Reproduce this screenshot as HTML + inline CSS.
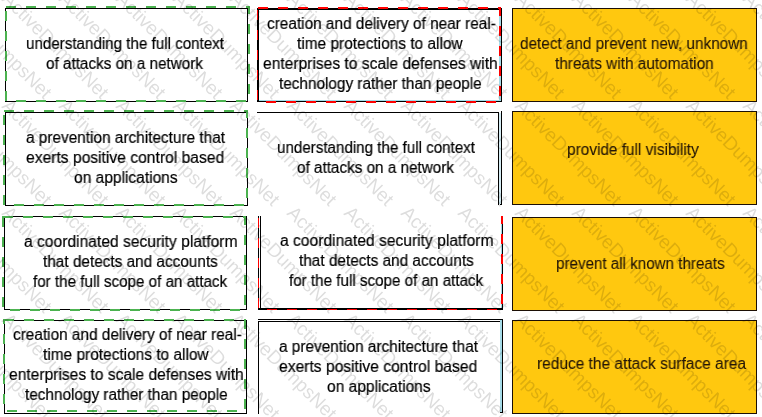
<!DOCTYPE html><html><head><meta charset="utf-8"><title>match</title><style>html,body{margin:0;padding:0;background:#fff}
#c{position:relative;width:762px;height:417px;overflow:hidden;background:#fff;font-family:"Liberation Sans",Arial,sans-serif;font-size:16px;line-height:20px;color:#000;-webkit-text-stroke:0.2px}
.t{position:absolute;white-space:nowrap;transform-origin:0 0;will-change:transform}</style></head><body><div id="c"><svg width="762" height="417" viewBox="0 0 762 417" shape-rendering="crispEdges" style="position:absolute;left:0;top:0"><defs><clipPath id="c3"><rect x="490" y="216" width="20" height="100"/></clipPath></defs><rect x="512" y="8" width="245" height="94" fill="#1c0f05"/><rect x="513" y="9" width="243" height="92" fill="#ffc80f"/><rect x="512" y="111" width="245" height="94" fill="#1c0f05"/><rect x="513" y="112" width="243" height="92" fill="#ffc80f"/><rect x="512" y="217" width="245" height="94" fill="#1c0f05"/><rect x="513" y="218" width="243" height="92" fill="#ffc80f"/><rect x="512" y="320" width="245" height="94" fill="#1c0f05"/><rect x="513" y="321" width="243" height="92" fill="#ffc80f"/><rect x="5" y="8" width="243" height="1" fill="#000"/><rect x="5" y="101" width="243" height="1" fill="#000"/><rect x="5" y="8" width="1" height="94" fill="#000"/><rect x="247" y="8" width="1" height="94" fill="#000"/><rect x="5" y="112" width="243" height="1" fill="#000"/><rect x="5" y="205" width="243" height="1" fill="#000"/><rect x="5" y="112" width="1" height="94" fill="#000"/><rect x="247" y="112" width="1" height="94" fill="#000"/><rect x="4" y="216" width="243" height="1" fill="#000"/><rect x="4" y="309" width="243" height="1" fill="#000"/><rect x="4" y="216" width="1" height="94" fill="#000"/><rect x="246" y="216" width="1" height="94" fill="#000"/><rect x="4" y="320" width="243" height="1" fill="#000"/><rect x="4" y="413" width="243" height="1" fill="#000"/><rect x="4" y="320" width="1" height="94" fill="#000"/><rect x="246" y="320" width="1" height="94" fill="#000"/><rect x="6" y="7" width="243" height="94" fill="none" stroke="#4cb250" stroke-width="2" stroke-dasharray="10 10"/><rect x="4" y="111" width="243" height="94" fill="none" stroke="#4cb250" stroke-width="2" stroke-dasharray="10 10"/><rect x="3" y="217" width="242" height="93" fill="none" stroke="#4cb250" stroke-width="2" stroke-dasharray="10 10"/><rect x="4" y="320" width="241" height="91" fill="none" stroke="#4cb250" stroke-width="2" stroke-dasharray="10 10"/><rect x="257" y="8" width="2" height="94" fill="#000"/><rect x="257" y="8" width="245" height="2" fill="#000"/><rect x="501" y="8" width="1" height="94" fill="#000"/><rect x="257" y="101" width="245" height="1" fill="#000"/><rect x="499" y="10" width="2" height="91" fill="#a5dbe8"/><rect x="259" y="100" width="242" height="1" fill="#a5dbe8"/><rect x="258" y="8" width="242" height="94" fill="none" stroke="#ff0000" stroke-width="2" stroke-dasharray="10 10"/><rect x="258" y="10" width="1" height="91" fill="#000"/><rect x="257" y="112" width="242" height="1" fill="#000"/><rect x="498" y="112" width="1" height="93" fill="#000"/><rect x="499" y="113" width="2" height="91" fill="#d6edf4"/><rect x="501" y="111" width="1" height="94" fill="#000"/><rect x="500" y="204" width="2" height="1" fill="#000"/><rect x="258" y="216" width="1" height="94" fill="#000"/><rect x="260" y="216" width="1" height="94" fill="#000"/><rect x="258" y="308" width="245" height="2" fill="#000"/><rect x="501" y="216" width="1" height="92" fill="#a5dbe8"/><rect x="502" y="216" width="1" height="94" fill="#000"/><path d="M502 214V309.5" stroke="#ff0000" stroke-width="2" stroke-dasharray="10 10" fill="none" clip-path="url(#c3)"/><path d="M502 309.5H258.5" stroke="#ff0000" stroke-width="1" stroke-dasharray="10 10" stroke-dashoffset="14.5" fill="none"/><path d="M258.5 308V216" stroke="#ff0000" stroke-width="1" stroke-dasharray="10 10" fill="none"/><rect x="258" y="319" width="245" height="1" fill="#000"/><rect x="258" y="321" width="242" height="1" fill="#000"/><rect x="258" y="321" width="1" height="93" fill="#000"/><rect x="500" y="320" width="2" height="93" fill="#a5dbe8"/><rect x="502" y="319" width="1" height="94" fill="#000"/><rect x="500" y="412" width="3" height="1" fill="#000"/></svg><div class="t" style="left:25.65px;top:33.90px;transform:scaleX(0.9473)">understanding the full context</div><div class="t" style="left:45.80px;top:53.80px;transform:scaleX(0.9539)">of attacks on a network</div><div class="t" style="left:266.70px;top:14.20px;transform:scaleX(0.9600)">creation and delivery of near real-</div><div class="t" style="left:297.40px;top:34.30px;transform:scaleX(0.9647)">time protections to allow</div><div class="t" style="left:263.40px;top:54.20px;transform:scaleX(0.9741)">enterprises to scale defenses with</div><div class="t" style="left:279.20px;top:74.20px;transform:scaleX(0.9575)">technology rather than people</div><div class="t" style="left:520.00px;top:33.70px;transform:scaleX(0.9550);color:#241607;-webkit-text-stroke-width:0.1px">detect and prevent new, unknown</div><div class="t" style="left:554.60px;top:54.10px;transform:scaleX(0.9591);color:#241607;-webkit-text-stroke-width:0.1px">threats with automation</div><div class="t" style="left:25.70px;top:128.00px;transform:scaleX(0.9601)">a prevention architecture that</div><div class="t" style="left:26.40px;top:147.80px;transform:scaleX(0.9773)">exerts positive control based</div><div class="t" style="left:73.70px;top:167.60px;transform:scaleX(0.9706)">on applications</div><div class="t" style="left:276.65px;top:137.90px;transform:scaleX(0.9473)">understanding the full context</div><div class="t" style="left:296.80px;top:157.80px;transform:scaleX(0.9539)">of attacks on a network</div><div class="t" style="left:566.94px;top:139.90px;transform:scaleX(0.9615);color:#241607;-webkit-text-stroke-width:0.1px">provide full visibility</div><div class="t" style="left:23.70px;top:232.00px;transform:scaleX(0.9760)">a coordinated security platform</div><div class="t" style="left:42.80px;top:251.90px;transform:scaleX(0.9586)">that detects and accounts</div><div class="t" style="left:32.80px;top:271.80px;transform:scaleX(0.9491)">for the full scope of an attack</div><div class="t" style="left:279.70px;top:231.10px;transform:scaleX(0.9760)">a coordinated security platform</div><div class="t" style="left:298.80px;top:251.00px;transform:scaleX(0.9586)">that detects and accounts</div><div class="t" style="left:288.80px;top:270.90px;transform:scaleX(0.9491)">for the full scope of an attack</div><div class="t" style="left:555.75px;top:254.00px;transform:scaleX(0.9476);color:#241607;-webkit-text-stroke-width:0.1px">prevent all known threats</div><div class="t" style="left:12.70px;top:324.70px;transform:scaleX(0.9600)">creation and delivery of near real-</div><div class="t" style="left:43.40px;top:344.80px;transform:scaleX(0.9647)">time protections to allow</div><div class="t" style="left:9.40px;top:364.70px;transform:scaleX(0.9741)">enterprises to scale defenses with</div><div class="t" style="left:25.20px;top:384.70px;transform:scaleX(0.9575)">technology rather than people</div><div class="t" style="left:278.70px;top:337.00px;transform:scaleX(0.9601)">a prevention architecture that</div><div class="t" style="left:279.40px;top:356.80px;transform:scaleX(0.9773)">exerts positive control based</div><div class="t" style="left:326.70px;top:376.60px;transform:scaleX(0.9706)">on applications</div><div class="t" style="left:536.63px;top:354.00px;transform:scaleX(0.9674);color:#241607;-webkit-text-stroke-width:0.1px">reduce the attack surface area</div><svg width="762" height="417" viewBox="0 0 762 417" style="position:absolute;left:0;top:0;pointer-events:none" font-family='"Liberation Sans",Arial,sans-serif' font-size="19" fill="#000" opacity="0.135"><text transform="translate(-113 -107) rotate(45)">ActiveDumpsNet</text><text transform="translate(-56 -107) rotate(45)">ActiveDumpsNet</text><text transform="translate(1 -107) rotate(45)">ActiveDumpsNet</text><text transform="translate(58 -107) rotate(45)">ActiveDumpsNet</text><text transform="translate(115 -107) rotate(45)">ActiveDumpsNet</text><text transform="translate(172 -107) rotate(45)">ActiveDumpsNet</text><text transform="translate(229 -107) rotate(45)">ActiveDumpsNet</text><text transform="translate(286 -107) rotate(45)">ActiveDumpsNet</text><text transform="translate(343 -107) rotate(45)">ActiveDumpsNet</text><text transform="translate(400 -107) rotate(45)">ActiveDumpsNet</text><text transform="translate(457 -107) rotate(45)">ActiveDumpsNet</text><text transform="translate(514 -107) rotate(45)">ActiveDumpsNet</text><text transform="translate(571 -107) rotate(45)">ActiveDumpsNet</text><text transform="translate(628 -107) rotate(45)">ActiveDumpsNet</text><text transform="translate(685 -107) rotate(45)">ActiveDumpsNet</text><text transform="translate(742 -107) rotate(45)">ActiveDumpsNet</text><text transform="translate(-113 0) rotate(45)">ActiveDumpsNet</text><text transform="translate(-56 0) rotate(45)">ActiveDumpsNet</text><text transform="translate(1 0) rotate(45)">ActiveDumpsNet</text><text transform="translate(58 0) rotate(45)">ActiveDumpsNet</text><text transform="translate(115 0) rotate(45)">ActiveDumpsNet</text><text transform="translate(172 0) rotate(45)">ActiveDumpsNet</text><text transform="translate(229 0) rotate(45)">ActiveDumpsNet</text><text transform="translate(286 0) rotate(45)">ActiveDumpsNet</text><text transform="translate(343 0) rotate(45)">ActiveDumpsNet</text><text transform="translate(400 0) rotate(45)">ActiveDumpsNet</text><text transform="translate(457 0) rotate(45)">ActiveDumpsNet</text><text transform="translate(514 0) rotate(45)">ActiveDumpsNet</text><text transform="translate(571 0) rotate(45)">ActiveDumpsNet</text><text transform="translate(628 0) rotate(45)">ActiveDumpsNet</text><text transform="translate(685 0) rotate(45)">ActiveDumpsNet</text><text transform="translate(742 0) rotate(45)">ActiveDumpsNet</text><text transform="translate(-113 107) rotate(45)">ActiveDumpsNet</text><text transform="translate(-56 107) rotate(45)">ActiveDumpsNet</text><text transform="translate(1 107) rotate(45)">ActiveDumpsNet</text><text transform="translate(58 107) rotate(45)">ActiveDumpsNet</text><text transform="translate(115 107) rotate(45)">ActiveDumpsNet</text><text transform="translate(172 107) rotate(45)">ActiveDumpsNet</text><text transform="translate(229 107) rotate(45)">ActiveDumpsNet</text><text transform="translate(286 107) rotate(45)">ActiveDumpsNet</text><text transform="translate(343 107) rotate(45)">ActiveDumpsNet</text><text transform="translate(400 107) rotate(45)">ActiveDumpsNet</text><text transform="translate(457 107) rotate(45)">ActiveDumpsNet</text><text transform="translate(514 107) rotate(45)">ActiveDumpsNet</text><text transform="translate(571 107) rotate(45)">ActiveDumpsNet</text><text transform="translate(628 107) rotate(45)">ActiveDumpsNet</text><text transform="translate(685 107) rotate(45)">ActiveDumpsNet</text><text transform="translate(742 107) rotate(45)">ActiveDumpsNet</text><text transform="translate(-113 214) rotate(45)">ActiveDumpsNet</text><text transform="translate(-56 214) rotate(45)">ActiveDumpsNet</text><text transform="translate(1 214) rotate(45)">ActiveDumpsNet</text><text transform="translate(58 214) rotate(45)">ActiveDumpsNet</text><text transform="translate(115 214) rotate(45)">ActiveDumpsNet</text><text transform="translate(172 214) rotate(45)">ActiveDumpsNet</text><text transform="translate(229 214) rotate(45)">ActiveDumpsNet</text><text transform="translate(286 214) rotate(45)">ActiveDumpsNet</text><text transform="translate(343 214) rotate(45)">ActiveDumpsNet</text><text transform="translate(400 214) rotate(45)">ActiveDumpsNet</text><text transform="translate(457 214) rotate(45)">ActiveDumpsNet</text><text transform="translate(514 214) rotate(45)">ActiveDumpsNet</text><text transform="translate(571 214) rotate(45)">ActiveDumpsNet</text><text transform="translate(628 214) rotate(45)">ActiveDumpsNet</text><text transform="translate(685 214) rotate(45)">ActiveDumpsNet</text><text transform="translate(742 214) rotate(45)">ActiveDumpsNet</text><text transform="translate(-113 321) rotate(45)">ActiveDumpsNet</text><text transform="translate(-56 321) rotate(45)">ActiveDumpsNet</text><text transform="translate(1 321) rotate(45)">ActiveDumpsNet</text><text transform="translate(58 321) rotate(45)">ActiveDumpsNet</text><text transform="translate(115 321) rotate(45)">ActiveDumpsNet</text><text transform="translate(172 321) rotate(45)">ActiveDumpsNet</text><text transform="translate(229 321) rotate(45)">ActiveDumpsNet</text><text transform="translate(286 321) rotate(45)">ActiveDumpsNet</text><text transform="translate(343 321) rotate(45)">ActiveDumpsNet</text><text transform="translate(400 321) rotate(45)">ActiveDumpsNet</text><text transform="translate(457 321) rotate(45)">ActiveDumpsNet</text><text transform="translate(514 321) rotate(45)">ActiveDumpsNet</text><text transform="translate(571 321) rotate(45)">ActiveDumpsNet</text><text transform="translate(628 321) rotate(45)">ActiveDumpsNet</text><text transform="translate(685 321) rotate(45)">ActiveDumpsNet</text><text transform="translate(742 321) rotate(45)">ActiveDumpsNet</text></svg></div></body></html>
